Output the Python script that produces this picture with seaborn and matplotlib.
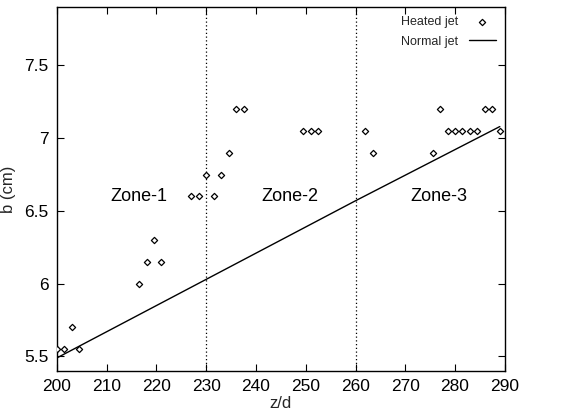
import matplotlib
matplotlib.use("Agg")
import matplotlib.pyplot as plt
import seaborn as sns
import pandas as pd
from matplotlib.ticker import FuncFormatter

heated_z = [200, 201.5, 203, 204.5, 216.5, 218, 219.5, 221, 227, 228.5, 230, 231.5,
            233, 234.5, 236, 237.5, 249.5, 251, 252.5, 262, 263.5, 275.5, 277, 278.5,
            280, 281.5, 283, 284.5, 286, 287.5, 289]
heated_b = [5.55, 5.55, 5.70, 5.55, 6.00, 6.15, 6.30, 6.15, 6.60, 6.60, 6.75, 6.60,
            6.75, 6.90, 7.20, 7.20, 7.05, 7.05, 7.05, 7.05, 6.90, 6.90, 7.20, 7.05,
            7.05, 7.05, 7.05, 7.05, 7.20, 7.20, 7.05]
normal_z = [200, 230, 260, 289]
normal_b = [5.49, 6.03, 6.57, 7.08]
zone_lines = [230, 260]
zone_labels = ["Zone-1", "Zone-2", "Zone-3"]
zone_x = [216.5, 246.8, 276.7]
zone_y = 6.6
x_ticks = [200, 210, 220, 230, 240, 250, 260, 270, 280, 290]
y_ticks = [5.5, 6, 6.5, 7, 7.5]

sns.set_theme(style="ticks")
plt.rcParams['font.family'] = ['Liberation Sans', 'DejaVu Sans']

fig = plt.figure(figsize=(5.64, 4.2), dpi=100)
ax = fig.add_axes([0.101, 0.1167, 0.794, 0.866])

hdf = pd.DataFrame({"z": heated_z, "b": heated_b})
ndf = pd.DataFrame({"z": normal_z, "b": normal_b})

for xv in zone_lines:
    ax.axvline(xv, color="black", linestyle=(0, (1, 2)), linewidth=0.9, zorder=1)

sns.lineplot(data=ndf, x="z", y="b", ax=ax, color="black", linewidth=1.0,
             label="Normal jet", zorder=2)
sns.scatterplot(data=hdf, x="z", y="b", ax=ax, marker="D", s=10,
                facecolor="white", edgecolor="black", linewidth=0.9,
                label="Heated jet", zorder=3)

for t, xv in zip(zone_labels, zone_x):
    ax.text(xv, zone_y, t, ha="center", va="center", fontsize=13, color="black")

ax.set_xlim(200, 290)
ax.set_ylim(5.4, 7.9)
ax.set_xticks(x_ticks)
ax.set_yticks(y_ticks)
ax.yaxis.set_major_formatter(FuncFormatter(lambda v, p: f"{v:g}"))
ax.tick_params(direction="in", top=True, right=True, length=5, width=0.8,
               labelsize=12.5, colors="black", pad=6)
for s in ax.spines.values():
    s.set_linewidth(1.0)
    s.set_color("black")
ax.set_xlabel("z/d", fontsize=12, labelpad=1)
ax.set_ylabel("b (cm)", fontsize=12, labelpad=6)

h, l = ax.get_legend_handles_labels()
order = [l.index("Heated jet"), l.index("Normal jet")]
leg = ax.legend([h[i] for i in order], [l[i] for i in order], loc="upper right",
                frameon=False, markerfirst=False, fontsize=9, handlelength=2.2,
                borderaxespad=0.3, labelspacing=0.6, markerscale=1.0)

fig.savefig("out.png", dpi=100)
